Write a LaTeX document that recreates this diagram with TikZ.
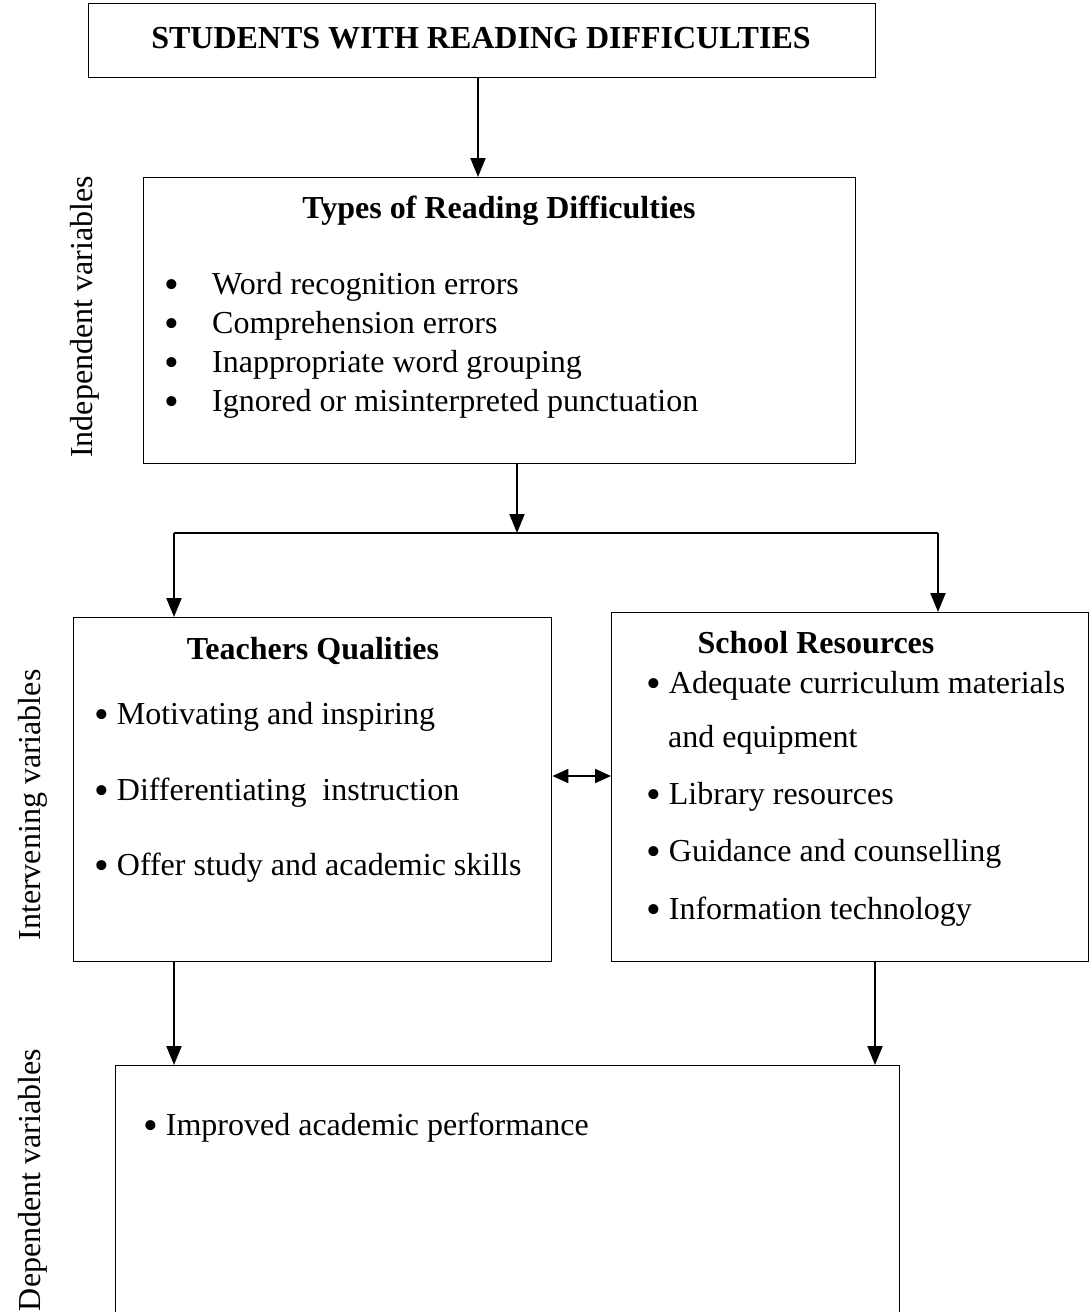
\documentclass[tikz,border=0pt]{standalone}
\usepackage{fontspec}
\setmainfont{Liberation Serif}
\usetikzlibrary{arrows.meta}
\newcommand\bigbul{\raisebox{-0.14em}{\fontsize{42}{39}\selectfont•}}
\begin{document}
\begin{tikzpicture}[x=1pt,y=-1pt,
  box/.style={draw,line width=1.4pt,inner sep=0pt,anchor=north west},
  arr/.style={line width=2pt,-{Triangle[length=19pt,width=15pt]}},
  darr/.style={line width=2pt,{Triangle[length=16pt,width=14pt]}-{Triangle[length=16pt,width=14pt]}},
  bus/.style={line width=2pt},
  txt/.style={font=\fontsize{32}{39}\selectfont,inner sep=0pt,anchor=base west},
  hd/.style={font=\fontsize{32}{39}\selectfont\bfseries,inner sep=0pt,anchor=base},
  side/.style={font=\fontsize{32}{39}\selectfont,inner sep=0pt,rotate=90},
]
\useasboundingbox (0,0) rectangle (1089,1312);
\fill[white] (0,0) rectangle (1089,1312);

% boxes
\node[box,minimum width=787pt,minimum height=74pt] (title) at (88,3) {};
\node[box,minimum width=712pt,minimum height=286pt] (types) at (143,177) {};
\node[box,minimum width=478pt,minimum height=344pt] (teach) at (73,617) {};
\node[box,minimum width=477pt,minimum height=349pt] (school) at (611,612) {};
\node[box,minimum width=784pt,minimum height=280pt] (dep) at (115,1065) {};

% texts
\node[hd] (titletext) at (481,48) {STUDENTS WITH READING DIFFICULTIES};

\node[hd] (typeshd) at (499,218) {Types of Reading Difficulties};
\node[txt,anchor=base] (b1) at (172,294) {\bigbul};
\node[txt,anchor=base] (b2) at (172,333) {\bigbul};
\node[txt,anchor=base] (b3) at (172,372) {\bigbul};
\node[txt,anchor=base] (b4) at (172,411) {\bigbul};
\node[txt] (t1) at (212,294) {Word recognition errors};
\node[txt] (t2) at (212,333) {Comprehension errors};
\node[txt] (t3) at (212,372) {Inappropriate word grouping};
\node[txt] (t4) at (212,411) {Ignored or misinterpreted punctuation};

\node[hd] (teachhd) at (313,659) {Teachers Qualities};
\node[txt] (q1) at (94,724) {\bigbul\ Motivating and inspiring};
\node[txt] (q2) at (94,800) {\bigbul\ Differentiating\ \ instruction};
\node[txt] (q3) at (94,875) {\bigbul\ Offer study and academic skills};

\node[hd] (schoolhd) at (816,653) {School Resources};
\node[txt] (r1) at (646,693) {\bigbul\ Adequate curriculum materials};
\node[txt] (r1b) at (668,747) {and equipment};
\node[txt] (r2) at (646,804) {\bigbul\ Library resources};
\node[txt] (r3) at (646,861) {\bigbul\ Guidance and counselling};
\node[txt] (r4) at (646,919) {\bigbul\ Information technology};

\node[txt] (d1) at (143,1135) {\bigbul\ Improved academic performance};

\node[side] (lind) at (85,317) {Independent variables};
\node[side] (lint) at (33,805) {Intervening variables};
\node[side] (ldep) at (33,1180) {Dependent variables};

% connectors
\coordinate (j) at (517,533);
\coordinate (jl) at (174,533);
\coordinate (jr) at (938,533);
\draw[arr] (478,0 |- title.south) -- (478,0 |- types.north);
\draw[arr] (j |- types.south) -- (j);
\draw[bus] (jl) -- (jr);
\draw[arr] (jl) -- (jl |- teach.north);
\draw[arr] (jr) -- (jr |- school.north);
\draw[darr] (teach.east |- 0,776) -- (school.west |- 0,776);
\draw[arr] (174,0 |- teach.south) -- (174,0 |- dep.north);
\draw[arr] (875,0 |- school.south) -- (875,0 |- dep.north);
\end{tikzpicture}
\end{document}
